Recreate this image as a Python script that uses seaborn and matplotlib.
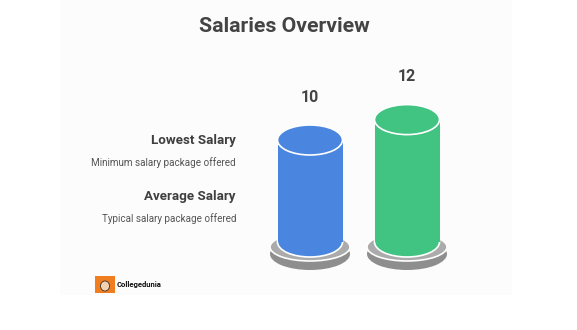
import matplotlib
matplotlib.use("Agg")
import matplotlib.pyplot as plt
from matplotlib.patches import Ellipse, Rectangle
import seaborn as sns
import pandas as pd

# ---- data ----
categories = ["Lowest Salary", "Average Salary"]
values = [10, 12]
descriptions = ["Minimum salary package offered", "Typical salary package offered"]
colors = ["#4a86e0", "#41c382"]
title = "Salaries Overview"
brand = "Collegedunia"

sns.set_theme(style="white")
plt.rcParams["font.family"] = ["Roboto", "DejaVu Sans"]

W, H = 577, 330
fig = plt.figure(figsize=(W / 100, H / 100), dpi=100)
fig.patch.set_facecolor("white")
# subtle off-white panel
fig.patches.append(Rectangle((60 / W, 1 - 295 / H), 452 / W, 295 / H,
                             transform=fig.transFigure, facecolor="#fcfcfc",
                             edgecolor="none", zorder=-5))

ax = fig.add_axes([0, 0, 1, 1])
ax.set_facecolor("none")
ax.set_zorder(1)

# pixel mapping: x_pix = 310 + 97*x ; y_pix(top) = 242 - 10.2*v
sx, sy = 97.0, 10.2

df = pd.DataFrame({"cat": categories, "val": values})
bw = 65 / sx
sns.barplot(data=df, x="cat", y="val", hue="cat", palette=colors,
            saturation=1, width=bw, linewidth=0, legend=False, ax=ax, zorder=3)
ax.set_xlim(-310 / sx, (W - 310) / sx)
ax.set_ylim(-(H - 242) / sy, 242 / sy)
ax.axis("off")

eh = 30 / sy  # ellipse height in data units
for bar, v, c in zip(ax.patches[:len(values)], values, colors):
    xc = bar.get_x() + bar.get_width() / 2
    w = bar.get_width()
    # base disks
    ax.add_patch(Ellipse((xc, -12 / sy), 80 / sx, 32 / sy, facecolor="#8e8e8e",
                         edgecolor="none", zorder=1))
    ax.add_patch(Ellipse((xc, -5 / sy), 80 / sx, 28 / sy, facecolor="#ababab",
                         edgecolor="white", lw=1.2, zorder=1.5))
    # cylinder bottom
    ax.add_patch(Ellipse((xc, 0), w, eh, facecolor=c, edgecolor="white",
                         lw=1.2, zorder=2.5))
    # cylinder top
    ax.add_patch(Ellipse((xc, v), w, eh, facecolor=c, edgecolor="white",
                         lw=1.2, zorder=4))
    # value label
    ax.text(xc, v + 43 / sy, f"{v}", ha="center", va="center",
            fontsize=11.5, fontweight="bold", color="#444444", zorder=5)

# title
fig.text(284.5 / W, 1 - 27 / H, title, ha="center", va="center",
         fontsize=15.3, fontweight="bold", color="#444444")

# left legend text
ys_title = [140, 196]
ys_desc = [163, 219]
for cat, desc, yt, yd in zip(categories, descriptions, ys_title, ys_desc):
    fig.text(236 / W, 1 - yt / H, cat, ha="right", va="center",
             fontsize=9.6, fontweight="bold", color="#3f3f3f")
    fig.text(236 / W, 1 - yd / H, desc, ha="right", va="center",
             fontsize=7.1, color="#555555")

# brand logo
fig.patches.append(Rectangle((95 / W, 1 - 293 / H), 20 / W, 17 / H,
                             transform=fig.transFigure, facecolor="#f07d1f",
                             edgecolor="none", zorder=2))
fig.patches.append(Ellipse((105 / W, 1 - 286 / H), 9 / W, 10 / H,
                           transform=fig.transFigure, facecolor="#f4d2b0",
                           edgecolor="#333333", lw=0.6, zorder=3))
fig.text(117 / W, 1 - 284.5 / H, brand, ha="left", va="center",
         fontsize=5.5, fontweight="bold", color="#111111")

fig.savefig("out.png", dpi=100)
